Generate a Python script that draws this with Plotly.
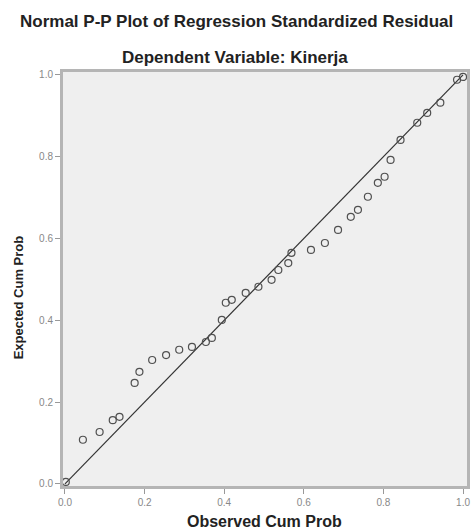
import plotly.graph_objects as go

# Observed vs expected cumulative probabilities
observed = [0.002, 0.045, 0.087, 0.120, 0.137, 0.175, 0.187, 0.219, 0.254, 0.287,
            0.319, 0.354, 0.369, 0.394, 0.404, 0.419, 0.454, 0.486, 0.519, 0.536,
            0.561, 0.569, 0.618, 0.653, 0.686, 0.718, 0.736, 0.761, 0.786, 0.803,
            0.818, 0.843, 0.885, 0.910, 0.943, 0.985, 1.000]
expected = [0.005, 0.108, 0.127, 0.156, 0.164, 0.247, 0.274, 0.303, 0.315, 0.328,
            0.335, 0.347, 0.357, 0.401, 0.443, 0.450, 0.467, 0.482, 0.499, 0.523,
            0.540, 0.565, 0.572, 0.589, 0.621, 0.653, 0.670, 0.702, 0.736, 0.751,
            0.792, 0.841, 0.883, 0.907, 0.932, 0.988, 0.995]
diag = [0.0, 1.0]
tick_vals = [0.0, 0.2, 0.4, 0.6, 0.8, 1.0]
tick_text = ["0.0", "0.2", "0.4", "0.6", "0.8", "1.0"]

title1 = "Normal P-P Plot of Regression Standardized Residual"
title2 = "Dependent Variable: Kinerja"
xtitle = "Observed Cum Prob"
ytitle = "Expected Cum Prob"

fig = go.Figure()
fig.add_trace(go.Scatter(x=diag, y=diag, mode="lines",
                         line=dict(color="#333333", width=1.2), hoverinfo="skip"))
fig.add_trace(go.Scatter(x=observed, y=expected, mode="markers",
                         marker=dict(symbol="circle-open", size=7, color="#505050",
                                     line=dict(color="#505050", width=1.2))))

L, R, T, B = 63, 6, 72, 45
W, H = 476, 531
pw, ph = W - L - R, H - T - B

def px(xp):
    return (xp - L) / pw

def py(yp):
    return (H - B - yp) / ph

font = "Liberation Sans, Arial, sans-serif"
axis_common = dict(range=[-0.005, 1.01], tickvals=tick_vals, ticktext=tick_text,
                   showgrid=False, zeroline=False, showline=True, mirror=True,
                   linecolor="#b5b5b5", linewidth=3, ticks="outside", ticklen=5,
                   tickcolor="#999999", tickfont=dict(size=10, color="#888888", family=font))

fig.update_layout(
    width=W, height=H, showlegend=False,
    margin=dict(l=L, r=R, t=T, b=B),
    paper_bgcolor="white", plot_bgcolor="#efefef",
    xaxis=dict(axis_common),
    yaxis=dict(axis_common, range=[-0.005, 1.007]),
    annotations=[
        dict(text=title1, x=px(238), y=py(22), xref="paper", yref="paper",
             showarrow=False, xanchor="center", yanchor="middle",
             font=dict(size=17, color="#222222", family=font, weight="bold")),
        dict(text=title2, x=px(236), y=py(57), xref="paper", yref="paper",
             showarrow=False, xanchor="center", yanchor="middle",
             font=dict(size=17, color="#222222", family=font, weight="bold")),
        dict(text=xtitle, x=px(266), y=py(521), xref="paper", yref="paper",
             showarrow=False, xanchor="center", yanchor="middle",
             font=dict(size=16, color="#222222", family=font, weight="bold")),
        dict(text=ytitle, x=px(18), y=py(297), xref="paper", yref="paper",
             showarrow=False, xanchor="center", yanchor="middle", textangle=-90,
             font=dict(size=13, color="#222222", family=font, weight="bold")),
    ],
)

fig.write_html("out.html", config={"displayModeBar": False},
               post_script="document.body.style.margin='0';document.body.style.overflow='hidden';")
